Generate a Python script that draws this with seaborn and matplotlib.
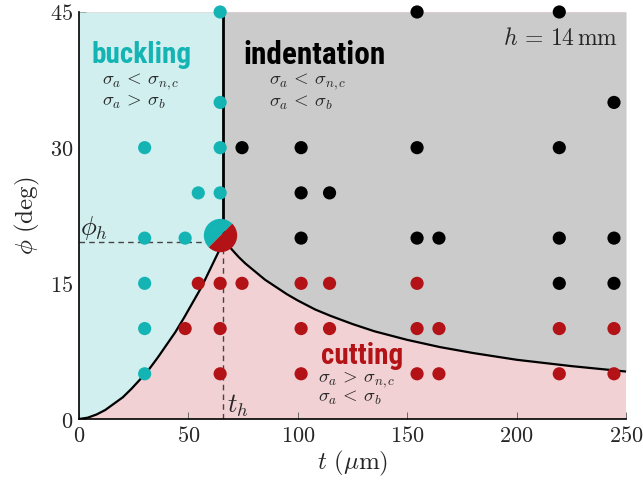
import numpy as np
import pandas as pd
import matplotlib
matplotlib.use("Agg")
import matplotlib.pyplot as plt
from matplotlib import font_manager
from matplotlib.markers import MarkerStyle
from matplotlib.transforms import Affine2D
import seaborn as sns

# measured points (t in um, phi in deg)
buckling_t = [30, 30, 30, 30, 30, 48.5, 54.5, 64.5, 64.5, 64.5, 64.5]
buckling_phi = [30, 20, 15, 10, 5, 20, 25, 45, 35, 30, 25]

cutting_t = [48.5, 54.5, 64.5, 64.5, 64.5, 74.5, 101.5, 101.5, 101.5, 114.5, 114.5,
             154.5, 154.5, 154.5, 164.5, 164.5, 219.5, 219.5, 244.5, 244.5]
cutting_phi = [10, 15, 15, 10, 5, 15, 15, 10, 5, 15, 10,
               15, 10, 5, 10, 5, 10, 5, 10, 5]

indent_t = [74.5, 101.5, 101.5, 101.5, 114.5, 154.5, 154.5, 154.5, 164.5,
            219.5, 219.5, 219.5, 219.5, 244.5, 244.5, 244.5]
indent_phi = [30, 30, 25, 20, 25, 45, 30, 20, 20,
              45, 30, 20, 15, 35, 20, 15]

# transition point
t_h, phi_h = 66, 19.6
triple_t, triple_phi = 64.5, 20.3

# boundaries
left_t = [0, 4, 8, 12, 16, 20, 24, 28, 32, 36, 40, 44, 48, 52, 56, 60, 63, 66]
left_phi = [0, 0.15, 0.5, 1.0, 1.7, 2.4, 3.35, 4.4, 5.5, 6.8, 8.2, 9.6, 11.2,
            12.9, 14.6, 16.6, 18.1, 19.6]
right_t = [66, 68, 70, 73, 76, 80, 85, 90, 95, 100, 108, 115, 125, 135, 150,
           165, 180, 200, 225, 250]
right_phi = [19.6, 19.3, 18.7, 17.9, 17.2, 16.4, 15.4, 14.6, 13.8, 13.1, 12.1, 11.4,
             10.5, 9.7, 8.75, 7.95, 7.3, 6.55, 5.85, 5.25]

x_ticks = [0, 50, 100, 150, 200, 250]
y_ticks = [0, 15, 30, 45]

cyan = '#15b4b4'
red = '#b31217'
colors = {'buckling': cyan, 'cutting': red, 'indentation': 'black'}

df = pd.DataFrame({
    't': buckling_t + cutting_t + indent_t,
    'phi': buckling_phi + cutting_phi + indent_phi,
    'regime': ['buckling'] * len(buckling_t) + ['cutting'] * len(cutting_t)
              + ['indentation'] * len(indent_t),
})

sns.set_style('white')
plt.rcParams['mathtext.fontset'] = 'cm'
plt.rcParams['font.family'] = ['DejaVu Serif']

# condensed bold face for the regime names, if one is around
installed = {f.name for f in font_manager.fontManager.ttflist}
narrow = [n for n in ['Liberation Sans Narrow', 'Roboto Condensed', 'Open Sans Condensed']
          if n in installed]
if narrow:
    fam, big = [narrow[0], 'DejaVu Sans'], 21
else:
    fam, big = ['Liberation Sans', 'DejaVu Sans'], 17.5
bold = dict(family=fam, fontweight='bold', ha='center', va='center')

fig = plt.figure(figsize=(6.43, 4.87), dpi=100)
ax = fig.add_axes([0.1229, 0.1396, 0.8507, 0.8358])

# regions
ax.axhspan(0, 45, color='#f1d1d3', zorder=0)
ax.fill_between(left_t, left_phi, 45, color='#d1efef', lw=0, zorder=1)
ax.fill_between(right_t, right_phi, 45, color='#cbcbcb', lw=0, zorder=1)

# boundaries
sns.lineplot(x=left_t, y=left_phi, color='black', lw=1.6, ax=ax, zorder=3, sort=False)
sns.lineplot(x=right_t, y=right_phi, color='black', lw=1.6, ax=ax, zorder=3, sort=False)
ax.plot([t_h, t_h], [phi_h, 45], color='black', lw=2, zorder=3)
ax.plot([0, t_h], [phi_h, phi_h], color='#444444', lw=1, ls=(0, (4, 3)), zorder=2)
ax.plot([t_h, t_h], [0, phi_h], color='#444444', lw=1, ls=(0, (4, 3)), zorder=2)

sns.scatterplot(data=df, x='t', y='phi', hue='regime', palette=colors, s=90,
                linewidth=0, legend=False, ax=ax, zorder=4, clip_on=False)

# split marker at the triple point
pie = MarkerStyle('o', fillstyle='top', transform=Affine2D().rotate_deg(45))
ax.plot([triple_t], [triple_phi], marker=pie, markersize=24, markerfacecolor=cyan,
        markerfacecoloralt=red, markeredgewidth=0, ls='none', zorder=5)

ax.set_xlim(0, 250)
ax.set_ylim(0, 45)
ax.set_xticks(x_ticks)
ax.set_yticks(y_ticks)
ax.set_xticklabels([f'${v}$' for v in x_ticks])
ax.set_yticklabels([f'${v}$' for v in y_ticks])
ax.tick_params(direction='in', length=5, width=0.6, labelsize=16, color='#555555',
               left=True, bottom=True, pad=4)
ax.set_xlabel(r'$t\ (\mu\mathrm{m})$', fontsize=18, labelpad=2)
ax.set_ylabel(r'$\phi\ (\mathrm{deg})$', fontsize=18, labelpad=6)
for s in ['top', 'right']:
    ax.spines[s].set_visible(False)
for s in ['left', 'bottom']:
    ax.spines[s].set_color('black')
    ax.spines[s].set_linewidth(1.2)
    ax.spines[s].set_zorder(6)

ax.text(28.8, 40.2, 'buckling', color=cyan, fontsize=big, **bold)
ax.text(107.5, 40.2, 'indentation', color='black', fontsize=big + 1.5, **bold)
ax.text(129.5, 7.0, 'cutting', color=red, fontsize=big, **bold)

sig = 13.5
ax.text(10.5, 37.3, r'$\sigma_a \,<\, \sigma_{n,c}$', fontsize=sig, va='center')
ax.text(10.5, 35.0, r'$\sigma_a \,>\, \sigma_b$', fontsize=sig, va='center')
ax.text(87, 37.3, r'$\sigma_a \,<\, \sigma_{n,c}$', fontsize=sig, va='center')
ax.text(87, 35.0, r'$\sigma_a \,<\, \sigma_b$', fontsize=sig, va='center')
ax.text(109, 4.3, r'$\sigma_a \,>\, \sigma_{n,c}$', fontsize=sig, va='center')
ax.text(109, 2.3, r'$\sigma_a \,<\, \sigma_b$', fontsize=sig, va='center')

ax.text(246.5, 42.1, r'$h \,=\, 14\,\mathrm{mm}$', fontsize=17, ha='right', va='center')
ax.text(0.5, 21.1, r'$\phi_h$', fontsize=19, va='center')
ax.text(67.5, 1.5, r'$t_h$', fontsize=19, va='center')

fig.savefig('out.png', dpi=100)
